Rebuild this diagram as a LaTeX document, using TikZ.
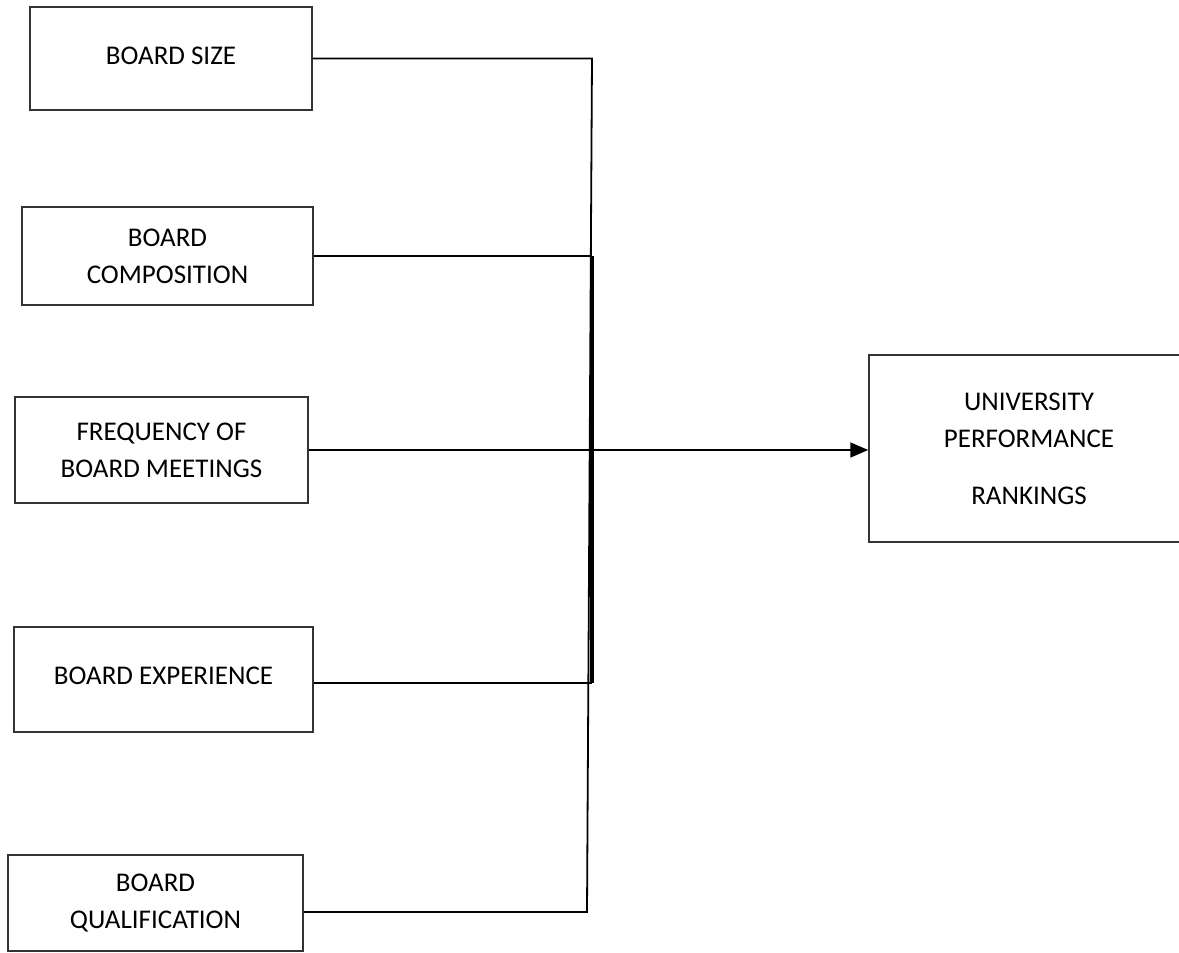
\documentclass[tikz,border=0pt]{standalone}
\usepackage{fontspec}
\setmainfont{Carlito}
\usetikzlibrary{arrows.meta}

\tikzset{
  factor/.style={draw=black!80, line width=1.5pt, rectangle, align=center,
    font=\fontsize{27}{37}\selectfont, inner sep=0pt},
  link/.style={draw=black, line width=1.8pt},
}

\begin{document}
\begin{tikzpicture}[x=1pt,y=-1pt]
    \useasboundingbox (0,0) rectangle (1179,953);

    \node[factor, minimum width=282pt, minimum height=103pt] (size) at (171,58.5) {\raisebox{6pt}{BOARD SIZE}};
    \node[factor, minimum width=291pt, minimum height=98pt] (comp) at (167.5,256) {BOARD\\COMPOSITION};
    \node[factor, minimum width=293pt, minimum height=106pt] (freq) at (161.5,450) {FREQUENCY OF\\BOARD MEETINGS};
    \node[factor, minimum width=299pt, minimum height=105pt] (exp) at (163.5,679.5) {\raisebox{7pt}{BOARD EXPERIENCE}};
    \node[factor, minimum width=295pt, minimum height=96pt] (qual) at (155.5,903) {BOARD\\QUALIFICATION};

    \node[factor, minimum width=320pt, minimum height=187pt] (rank) at (1029,448.5) {UNIVERSITY\\PERFORMANCE\\[20pt]RANKINGS};

    \coordinate (spine) at (592,0);
    \coordinate (bot) at (587,912);

    %\draw [help lines] (0,0) grid (1179,953);
    \draw[link] (size.east) -- (size.east -| spine) -- (bot) -- (qual.east |- bot);
    \draw[link] (comp.east) -- (comp.east -| spine);
    \draw[link, line width=3.4pt] (comp.east -| spine) -- ([yshift=-3.5pt]exp.east -| spine);
    \draw[link] ([yshift=-3.5pt]exp.east) -- ([yshift=-3.5pt]exp.east -| spine);

    \draw[link, -{Triangle[length=18pt,width=15pt]}] (freq.east) -- (rank.west |- freq.east);
  \end{tikzpicture}
\end{document}
